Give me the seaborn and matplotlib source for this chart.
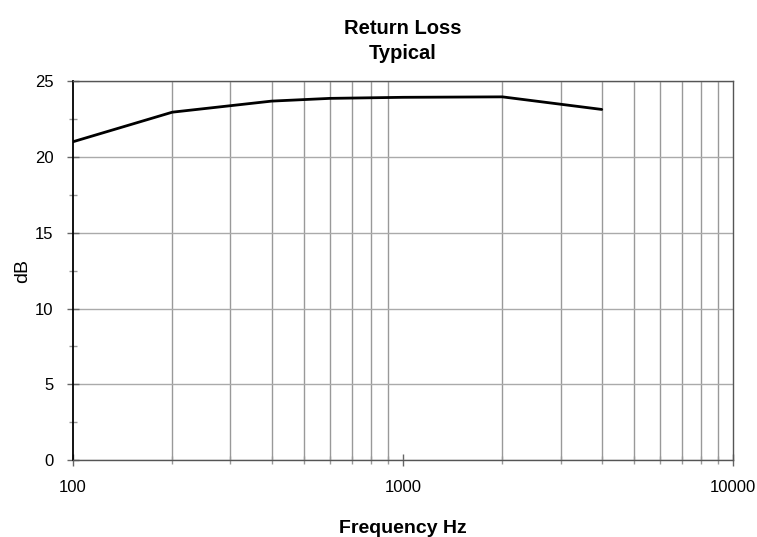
import numpy as np
import pandas as pd
import matplotlib
matplotlib.use("Agg")
import matplotlib.pyplot as plt
import matplotlib.ticker as mticker
import seaborn as sns

freq = [100, 200, 400, 600, 1000, 2000, 4000]
loss = [21.0, 22.95, 23.68, 23.86, 23.93, 23.96, 23.13]

sns.set_style("white")
plt.rcParams['font.family'] = ['Liberation Sans', 'DejaVu Sans']
plt.rcParams['text.color'] = 'black'
plt.rcParams['axes.labelcolor'] = 'black'
plt.rcParams['xtick.color'] = 'black'
plt.rcParams['ytick.color'] = 'black'

df = pd.DataFrame({"freq": freq, "loss": loss})

fig = plt.figure(figsize=(7.57, 5.37), dpi=100)
ax = fig.add_axes([0.0964, 0.143, 0.872, 0.706])
sns.lineplot(data=df, x="freq", y="loss", color="black", linewidth=2, ax=ax)

ax.set_xscale("log")
ax.set_xlim(100, 10000)
ax.set_ylim(0, 25)
ax.xaxis.set_major_locator(mticker.FixedLocator([100, 1000, 10000]))
ax.xaxis.set_major_formatter(mticker.FixedFormatter(["100", "1000", "10000"]))
ax.xaxis.set_minor_locator(mticker.LogLocator(base=10, subs=np.arange(2, 10)))
ax.xaxis.set_minor_formatter(mticker.NullFormatter())
ax.yaxis.set_major_locator(mticker.MultipleLocator(5))
ax.yaxis.set_minor_locator(mticker.MultipleLocator(2.5))

ax.grid(which="minor", axis="x", color="#999999", linewidth=1)
ax.grid(which="major", axis="y", color="#aaaaaa", linewidth=1)
ax.tick_params(which="both", bottom=True, left=True)
ax.tick_params(which="major", direction="inout", length=8, width=1,
               color="#666666", labelsize=12, pad=10)
ax.tick_params(which="minor", direction="inout", length=6, width=1, color="#999999")

for s in ["top", "right", "bottom"]:
    ax.spines[s].set_color("#555555")
    ax.spines[s].set_linewidth(1)
ax.spines["left"].set_color("black")
ax.spines["left"].set_linewidth(1.3)

ax.set_title("Return Loss\nTypical", fontsize=14.5, fontweight="bold", pad=16,
             linespacing=1.4)
ax.set_xlabel("Frequency Hz", fontsize=14, fontweight="bold", labelpad=18)
ax.set_ylabel("dB", fontsize=14, labelpad=3)

fig.savefig("out.png", dpi=100)
